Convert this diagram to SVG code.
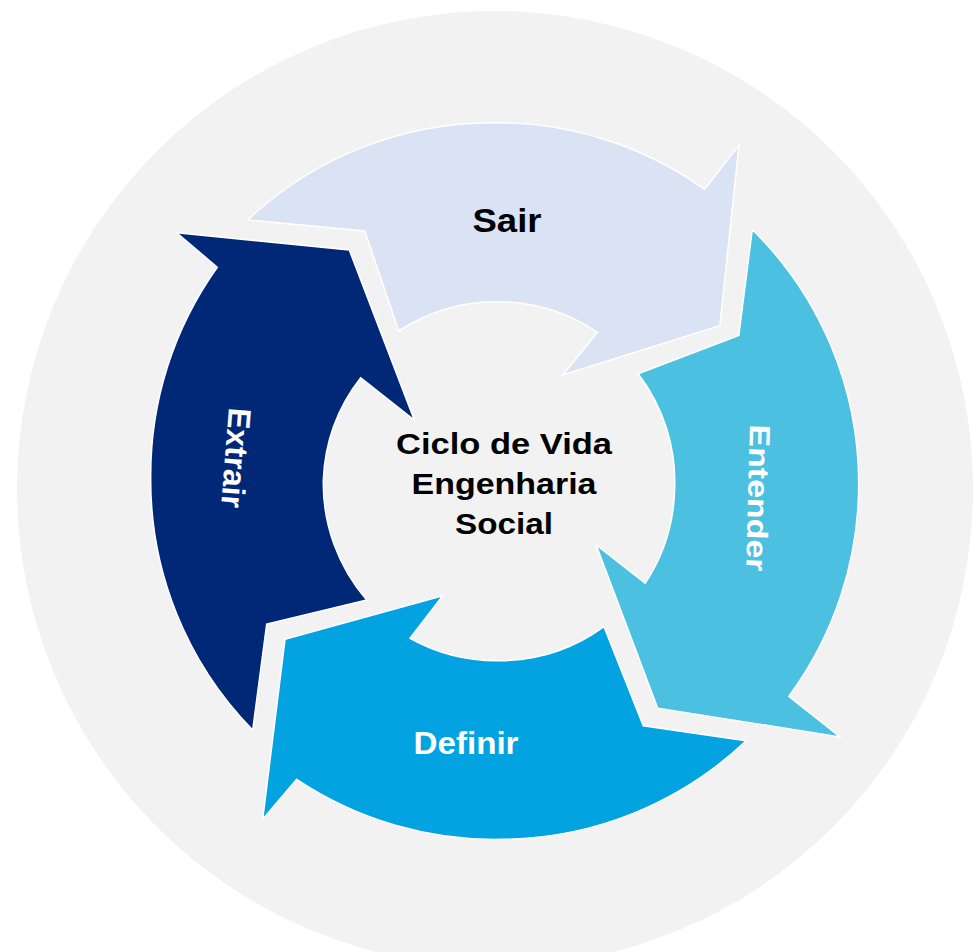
<svg xmlns="http://www.w3.org/2000/svg" width="973" height="952" viewBox="0 0 973 952">
<style>
.arrow{stroke:#ffffff;stroke-width:1.5;stroke-linejoin:miter}
.t{font-family:"Liberation Sans",Arial,sans-serif;font-weight:bold;text-anchor:middle}
.dark{fill:#000000}
.light{fill:#ffffff}
</style>
<rect width="973" height="952" fill="#ffffff"/>
<circle id="backdrop" cx="495" cy="489" r="478" fill="#f2f2f2"/>
<g id="connectors"></g>
<g id="sair">
<path class="arrow" fill="#dae3f3" d="M247.6,220 A357,357 0 0 1 496.8,122.7 A357,357 0 0 1 704.6,189.3 L739,145 L719.9,325.7 L562.6,375 L597.4,332.3 A178,178 0 0 0 496.8,301.7 A178,178 0 0 0 398.8,331 L364.7,231 Z"/>
<text class="t dark" x="507" y="232" font-size="33" textLength="69" lengthAdjust="spacingAndGlyphs">Sair</text>
</g>
<g id="entender">
<path class="arrow" fill="#4cc0e0" d="M752.3,229.5 A357,357 0 0 1 858.7,483.5 A357,357 0 0 1 788.8,696.4 L840.1,736.9 L657.7,708.2 L596.2,545 L645.2,583.2 A178,178 0 0 0 674.6,490.3 A178,178 0 0 0 638.1,373.7 L738.8,335.5 Z"/>
<text class="t light" transform="translate(758,498) rotate(91.5)" x="0" y="10" font-size="29" textLength="147" lengthAdjust="spacingAndGlyphs">Entender</text>
</g>
<g id="definir">
<path class="arrow" fill="#02a3e0" d="M746,740.7 A357,357 0 0 1 503,839.3 A357,357 0 0 1 296.7,779.3 L262.7,819.3 L285,639.3 L442.7,595.7 L410,638.3 A178,178 0 0 0 496.7,660.7 A178,178 0 0 0 604,626.7 L643.3,725.7 Z"/>
<text class="t light" x="466" y="754" font-size="31" textLength="105" lengthAdjust="spacingAndGlyphs">Definir</text>
</g>
<g id="extrair">
<path class="arrow" fill="#002876" d="M252.7,730 A357,357 0 0 1 150.7,476.7 A357,357 0 0 1 217.3,267.3 L176.7,232.7 L349.3,250 L414.3,420 L360.7,377.7 A178,178 0 0 0 323.3,480 A178,178 0 0 0 366.7,600 L266.7,624 Z"/>
<text class="t light" transform="translate(236,458) rotate(94.5)" x="0" y="11" font-size="32" textLength="100" lengthAdjust="spacingAndGlyphs">Extrair</text>
</g>
<g id="center">
<text class="t dark" x="504" y="454" font-size="29" textLength="216" lengthAdjust="spacingAndGlyphs">Ciclo de Vida</text>
<text class="t dark" x="504" y="494" font-size="29" textLength="185" lengthAdjust="spacingAndGlyphs">Engenharia</text>
<text class="t dark" x="504" y="534" font-size="29" textLength="98" lengthAdjust="spacingAndGlyphs">Social</text>
</g>
</svg>
